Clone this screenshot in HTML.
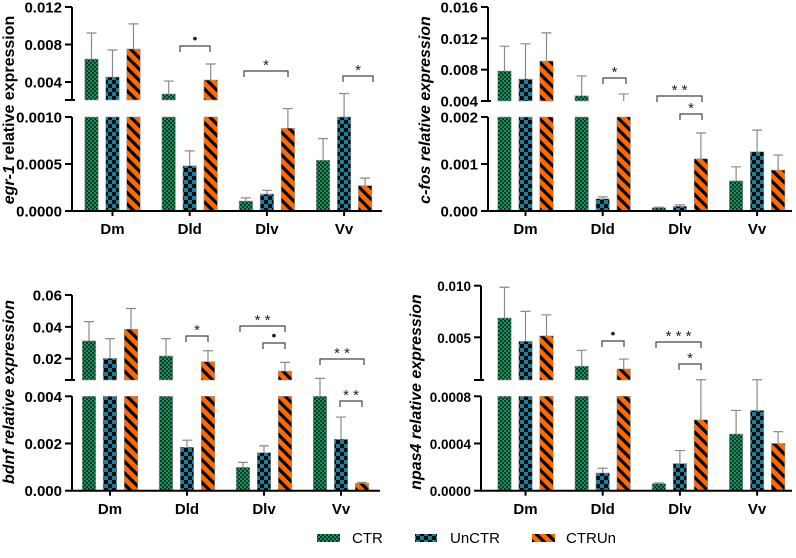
<!DOCTYPE html>
<html><head><meta charset="utf-8"><style>
html,body{margin:0;padding:0;background:#fff}
svg{display:block;font-family:"Liberation Sans",sans-serif}
</style></head><body>
<svg id="chart" width="796" height="558" viewBox="0 0 796 558" xmlns="http://www.w3.org/2000/svg">
<defs>
<pattern id="pCTR" width="4" height="4" patternUnits="userSpaceOnUse">
<rect width="4" height="4" fill="#17905c"/><rect width="2" height="2" fill="#0d3a26"/><rect x="2" y="2" width="2" height="2" fill="#0d3a26"/></pattern>
<pattern id="pUn" width="8" height="8" patternUnits="userSpaceOnUse">
<rect width="8" height="8" fill="#1a7f9c"/><rect width="4" height="4" fill="#0a0a0a"/><rect x="4" y="4" width="4" height="4" fill="#0a0a0a"/></pattern>
<pattern id="pCU" width="8" height="8" patternUnits="userSpaceOnUse" patternTransform="rotate(-45)">
<rect width="8" height="8" fill="#ff6a00"/><rect width="3.2" height="8" fill="#000"/></pattern>
</defs>
<g id="root"></g>
<g>
<rect x="317" y="534" width="23" height="8" fill="url(#pCTR)"/>
<text x="352" y="543" font-size="15">CTR</text>
<rect x="415" y="534" width="22" height="8" fill="url(#pUn)"/>
<text x="450" y="543" font-size="15">UnCTR</text>
<rect x="532" y="534" width="23" height="8" fill="url(#pCU)"/>
<text x="566" y="543" font-size="15">CTRUn</text>
</g>
</svg>
<script>
const categories = ["Dm","Dld","Dlv","Vv"];
const seriesNames = ["CTR","UnCTR","CTRUn"];
// egr-1
const egrCTR = [0.00645,0.00272,0.000106,0.00054];
const egrCTRerr = [0.00278,0.00138,0.000034,0.00023];
const egrUn = [0.00453,0.00048,0.00018,0.0010];
const egrUnerr = [0.00288,0.00016,0.00004,0.00025];
const egrCU = [0.00752,0.00421,0.00088,0.00027];
const egrCUerr = [0.00268,0.00171,0.00021,0.00008];
const egrTicksUp = [0.004,0.008,0.012];
const egrTicksLow = [0,0.0005,0.0010];
const egrTickLabUp = ["0.004","0.008","0.012"];
const egrTickLabLow = ["0.0000","0.0005","0.0010"];
// c-fos
const fosCTR = [0.00783,0.00466,0.00007,0.00064];
const fosCTRerr = [0.00317,0.00254,0.00001,0.0003];
const fosUn = [0.0068,0.00026,0.0001,0.00126];
const fosUnerr = [0.0045,0.00004,0.00003,0.00046];
const fosCU = [0.0091,0.0040,0.00111,0.00087];
const fosCUerr = [0.0036,0.0009,0.00055,0.00032];
const fosTicksUp = [0.004,0.008,0.012,0.016];
const fosTicksLow = [0,0.001,0.002];
const fosTickLabUp = ["0.004","0.008","0.012","0.016"];
const fosTickLabLow = ["0.000","0.001","0.002"];
// bdnf
const bdnfCTR = [0.0312,0.0217,0.00099,0.0040];
const bdnfCTRerr = [0.0121,0.0109,0.00021,0.00076];
const bdnfUn = [0.0202,0.00184,0.00161,0.00218];
const bdnfUnerr = [0.0124,0.0003,0.00029,0.00094];
const bdnfCU = [0.0385,0.0181,0.0122,0.00031];
const bdnfCUerr = [0.013,0.0069,0.0055,0.00004];
const bdnfTicksUp = [0.02,0.04,0.06];
const bdnfTicksLow = [0,0.002,0.004];
const bdnfTickLabUp = ["0.02","0.04","0.06"];
const bdnfTickLabLow = ["0.000","0.002","0.004"];
// npas4
const npCTR = [0.00687,0.0022,0.00006,0.00048];
const npCTRerr = [0.00298,0.00154,0.000005,0.0002];
const npUn = [0.00461,0.00015,0.00023,0.00068];
const npUnerr = [0.0029,0.00004,0.00011,0.00026];
const npCU = [0.00513,0.00193,0.0006,0.0004];
const npCUerr = [0.00205,0.00096,0.00034,0.0001];
const npTicksUp = [0.005,0.010];
const npTicksLow = [0,0.0004,0.0008];
const npTickLabUp = ["0.005","0.010"];
const npTickLabLow = ["0.0000","0.0004","0.0008"];

const NS="http://www.w3.org/2000/svg";
const root=document.getElementById('root');
function mk(tag,attrs,parent){const e=document.createElementNS(NS,tag);for(const k in attrs)e.setAttribute(k,attrs[k]);(parent||root).appendChild(e);return e;}

const panels=[
 {id:'egr1',ax:72,x0:112.5,sp:77.2,upTopY:7,upTopV:0.012,upRefY:82,upRefV:0.004,upBotY:100,lowTopY:117,lowTopV:0.001,zeroY:211,xEnd:382,fs:15,
  data:[[egrCTR,egrCTRerr],[egrUn,egrUnerr],[egrCU,egrCUerr]],tu:egrTicksUp,tl:egrTicksLow,lu:egrTickLabUp,ll:egrTickLabLow,
  ylab:[['egr-1',true],[' relative expression',false]],ylx:14,yly:110,labY:234,
  br:[[180,210,46,'•'],[244,288,71,'*'],[343,373,76,'*']]},
 {id:'cfos',ax:488,x0:525.5,sp:77.2,upTopY:7,upTopV:0.016,upRefY:101,upRefV:0.004,upBotY:101,lowTopY:117,lowTopV:0.002,zeroY:211,xEnd:792,fs:15,
  data:[[fosCTR,fosCTRerr],[fosUn,fosUnerr],[fosCU,fosCUerr]],tu:fosTicksUp,tl:fosTicksLow,lu:fosTickLabUp,ll:fosTickLabLow,
  ylab:[['c-fos relative expression',true]],ylx:430,yly:110,labY:234,
  br:[[603,626,78,'*'],[657,702,96,'**'],[680,702,114,'*']]},
 {id:'bdnf',ax:72,x0:110,sp:77,upTopY:295,upTopV:0.06,upRefY:358.7,upRefV:0.02,upBotY:380,lowTopY:396.3,lowTopV:0.004,zeroY:490.7,xEnd:380,fs:15,
  data:[[bdnfCTR,bdnfCTRerr],[bdnfUn,bdnfUnerr],[bdnfCU,bdnfCUerr]],tu:bdnfTicksUp,tl:bdnfTicksLow,lu:bdnfTickLabUp,ll:bdnfTickLabLow,
  ylab:[['bdnf relative expression',true]],ylx:14,yly:392,labY:514,
  br:[[186,208,336,'*'],[240,285,326,'**'],[263,285,343,'•'],[320,364,359,'**'],[340,362,401,'**']]},
 {id:'npas4',ax:481,x0:525.5,sp:77.2,upTopY:285.7,upTopV:0.010,upRefY:337.3,upRefV:0.005,upBotY:380,lowTopY:396.3,lowTopV:0.0008,zeroY:490.7,xEnd:792,fs:13.5,
  data:[[npCTR,npCTRerr],[npUn,npUnerr],[npCU,npCUerr]],tu:npTicksUp,tl:npTicksLow,lu:npTickLabUp,ll:npTickLabLow,
  ylab:[['npas4 relative expression',true]],ylx:421,yly:392,labY:514,
  br:[[602,624,341,'•'],[656,701,342,'***'],[679,701,364,'*']]}
];
const fills=['url(#pCTR)','url(#pUn)','url(#pCU)'];
const bw=13.5, pitch=21;

panels.forEach(p=>{
 const g=mk('g',{});
 
 
 const upK=(p.upRefY-p.upTopY)/(p.upTopV-p.upRefV);
 const upBotV=p.upRefV-(p.upBotY-p.upRefY)/upK;
 const yUp=v=>p.upRefY-(v-p.upRefV)*upK;
 const yLow=v=>p.zeroY-v/p.lowTopV*(p.zeroY-p.lowTopY);
 const xScale=(ci,si)=>p.x0+ci*p.sp+(si-1)*pitch;
 p.data.forEach((ser,si)=>{
  const vals=ser[0],errs=ser[1];
  categories.forEach((c,ci)=>{
   const v=vals[ci],e=errs[ci];const cx=xScale(ci,si);
   const top=Math.min(v,p.lowTopV);
   const r=mk('rect',{x:cx-bw/2,y:yLow(top),width:bw,height:p.zeroY-yLow(top),fill:fills[si],stroke:'#999','stroke-width':0.6},g);
   
   
   if(v>upBotV){const yt=yUp(v);
    const r2=mk('rect',{x:cx-bw/2,y:yt,width:bw,height:p.upBotY-yt,fill:fills[si],stroke:'#999','stroke-width':0.6},g);
    
    }
   const ev=v+e;
   const ye=(v>=upBotV)?yUp(ev):yLow(ev);
   const by=(v>=upBotV)?yUp(v):yLow(v);
   const eb=mk('path',{d:`M${cx} ${by}V${ye}M${cx-5} ${ye}H${cx+5}`,stroke:'#8a8a8a','stroke-width':1.2,fill:'none'},g);
   
   
  });
 });
 const ax=mk('path',{d:`M${p.ax} ${p.upTopY}V${p.upBotY}M${p.ax-7} ${p.upBotY}H${p.ax+3}M${p.ax} ${p.lowTopY}V${p.zeroY}H${p.xEnd}`,stroke:'#000','stroke-width':2,fill:'none'},g);
 
 
 p.tu.forEach((t,i)=>{const y=yUp(t);
  mk('line',{x1:p.ax-7,x2:p.ax,y1:y,y2:y,stroke:'#000','stroke-width':2},g);
  const tx=mk('text',{x:p.ax-10,y:y+5.5,'text-anchor':'end','font-size':p.fs,'font-weight':'bold'},g);tx.textContent=p.lu[i];
  
  });
 p.tl.forEach((t,i)=>{const y=yLow(t);
  mk('line',{x1:p.ax-7,x2:p.ax,y1:y,y2:y,stroke:'#000','stroke-width':2},g);
  const tx=mk('text',{x:p.ax-10,y:y+5.5,'text-anchor':'end','font-size':p.fs,'font-weight':'bold'},g);tx.textContent=p.ll[i];
  
  });
 categories.forEach((c,ci)=>{
  mk('line',{x1:xScale(ci,1),x2:xScale(ci,1),y1:p.zeroY,y2:p.zeroY+5,stroke:'#000','stroke-width':2},g);
  const tx=mk('text',{x:xScale(ci,1),y:p.labY,'text-anchor':'middle','font-size':15,'font-weight':'bold'},g);tx.textContent=c;
  
  });
 const yl=mk('text',{transform:`translate(${p.ylx},${p.yly}) rotate(-90)`,'text-anchor':'middle','font-size':16,'font-weight':'bold'},g);
 
 
 p.ylab.forEach(([s,it])=>{const ts=mk('tspan',{'font-style':it?'italic':'normal'},yl);ts.textContent=s;});
 p.br.forEach(([x1,x2,y,l])=>{
  const b=mk('path',{d:`M${x1} ${y+6}V${y}H${x2}V${y+6}`,stroke:'#444','stroke-width':1.2,fill:'none'},g);
  
  
  const t=mk('text',{x:(x1+x2)/2,y:l==='•'?y-3:y-1,'text-anchor':'middle','font-size':l==='•'?14:15,fill:'#222'},g);t.textContent=l.split('').join(l.length>1?' ':'');
  
  
 });
});
</script>
</body></html>
